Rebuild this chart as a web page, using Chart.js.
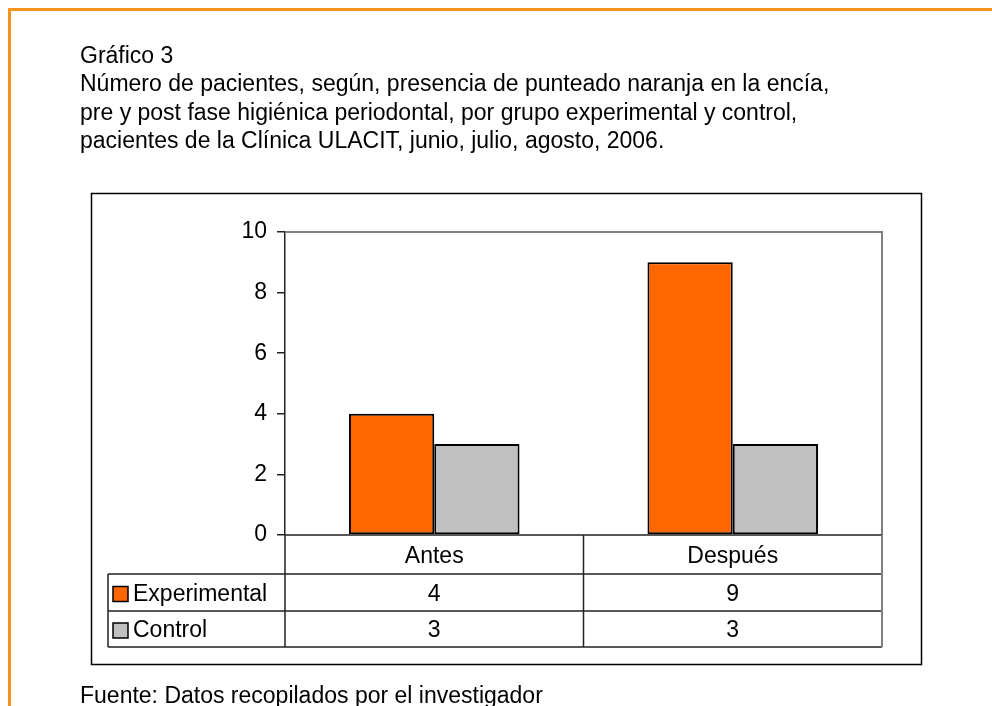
<!DOCTYPE html>
<html>
<head>
<meta charset="utf-8">
<script src="https://cdn.jsdelivr.net/npm/chart.js@4/dist/chart.umd.min.js"></script>
<style>
  html, body { margin: 0; padding: 0; background: #fff; }
  #wrap { width: 992px; height: 706px; position: relative; }
</style>
</head>
<body>
<div id="wrap"><canvas id="c" width="992" height="706"></canvas></div>
<script>
// Categories, series and axis ticks
const categories = ['Antes', 'Después'];
const seriesNames = ['Experimental', 'Control'];
const experimental = [4, 9];
const control = [3, 3];
const yTicks = [0, 2, 4, 6, 8, 10];

const titleLines = [
  'Gráfico 3',
  'Número de pacientes, según, presencia de punteado naranja en la encía,',
  'pre y post fase higiénica periodontal, por grupo experimental y control,',
  'pacientes de la Clínica ULACIT, junio, julio, agosto, 2006.'
];
const sourceNote = 'Fuente: Datos recopilados por el investigador';

const FONT = "'Liberation Sans', Arial, sans-serif";
const colors = ['#FF6600', '#C0C0C0'];

// Page frame, titles, chart box and the data table under the plot
const decor = {
  id: 'decor',
  beforeDraw(chart) {
    const ctx = chart.ctx;
    ctx.save();
    ctx.fillStyle = '#fff';
    ctx.fillRect(0, 0, chart.width, chart.height);
    // orange page frame
    ctx.fillStyle = '#F7941D';
    ctx.fillRect(8, 8, chart.width - 8, 3);
    ctx.fillRect(8, 8, 3, chart.height - 8);
    // titles
    ctx.fillStyle = '#000';
    ctx.font = '23px ' + FONT;
    ctx.textBaseline = 'alphabetic';
    ctx.textAlign = 'left';
    const base = [63, 91, 119.5, 148];
    titleLines.forEach((t, i) => ctx.fillText(t, 80, base[i]));
    ctx.fillText(sourceNote, 80, 703);
    // chart box
    ctx.strokeStyle = '#000';
    ctx.lineWidth = 1.5;
    ctx.strokeRect(91.5, 193.5, 830, 471);
    ctx.restore();
  },
  afterDraw(chart) {
    const ctx = chart.ctx;
    const a = chart.chartArea;
    const xs = chart.scales.x;
    ctx.save();
    // gray plot border top/right
    ctx.strokeStyle = '#808080';
    ctx.lineWidth = 2;
    ctx.beginPath();
    ctx.moveTo(a.left, a.top);
    ctx.lineTo(a.right, a.top);
    ctx.lineTo(a.right, a.bottom);
    ctx.stroke();

    // data table
    const rowH = [a.bottom, 574, 611, 647];
    const legLeft = 108;
    const mid = (xs.getPixelForValue(0) + xs.getPixelForValue(1)) / 2;
    ctx.strokeStyle = '#222';
    ctx.lineWidth = 1.5;
    ctx.beginPath();
    ctx.moveTo(a.left, a.bottom); ctx.lineTo(a.right, a.bottom);
    for (let r = 1; r < rowH.length; r++) {
      ctx.moveTo(legLeft, rowH[r]); ctx.lineTo(a.right, rowH[r]);
    }
    ctx.moveTo(legLeft, rowH[1]); ctx.lineTo(legLeft, rowH[3]);
    ctx.moveTo(a.left, a.bottom); ctx.lineTo(a.left, rowH[3]);
    ctx.moveTo(mid, a.bottom); ctx.lineTo(mid, rowH[3]);
    ctx.stroke();
    ctx.strokeStyle = '#808080';
    ctx.lineWidth = 2;
    ctx.beginPath();
    ctx.moveTo(a.right, a.bottom); ctx.lineTo(a.right, rowH[3]);
    ctx.stroke();

    ctx.fillStyle = '#000';
    ctx.font = '23px ' + FONT;
    ctx.textBaseline = 'middle';
    ctx.textAlign = 'center';
    categories.forEach((c, i) => ctx.fillText(c, xs.getPixelForValue(i), (rowH[0] + rowH[1]) / 2 + 2));
    const series = [experimental, control];
    series.forEach((vals, r) => {
      const y = (rowH[r + 1] + rowH[r + 2]) / 2 + 2;
      vals.forEach((v, i) => ctx.fillText(String(v), xs.getPixelForValue(i), y));
      // legend key + name
      ctx.fillStyle = colors[r];
      ctx.fillRect(113, y - 8, 15, 15);
      ctx.strokeStyle = '#000';
      ctx.lineWidth = 1.5;
      ctx.strokeRect(113, y - 8, 15, 15);
      ctx.fillStyle = '#000';
      ctx.textAlign = 'left';
      ctx.fillText(seriesNames[r], 133, y);
      ctx.textAlign = 'center';
    });
    ctx.restore();
  }
};

new Chart(document.getElementById('c'), {
  type: 'bar',
  data: {
    labels: categories,
    datasets: [
      { label: seriesNames[0], data: experimental, backgroundColor: colors[0], borderColor: '#000', borderWidth: 2, borderSkipped: false },
      { label: seriesNames[1], data: control, backgroundColor: colors[1], borderColor: '#000', borderWidth: 2, borderSkipped: false }
    ]
  },
  options: {
    responsive: false,
    animation: false,
    categoryPercentage: 0.5714,
    barPercentage: 1,
    layout: { padding: { left: 185, right: 110, top: 232, bottom: 171 } },
    plugins: { legend: { display: false }, tooltip: { enabled: false } },
    scales: {
      x: { display: false },
      y: {
        min: 0, max: 10,
        afterFit(s) { s.width = 100; },
        afterBuildTicks(s) { s.ticks = yTicks.map(v => ({ value: v })); },
        ticks: { color: '#000', font: { family: FONT, size: 23 }, padding: 10 },
        grid: { drawOnChartArea: false, drawTicks: true, tickLength: 8, color: '#222', lineWidth: 1.5 },
        border: { display: true, color: '#222', width: 1.5 }
      }
    }
  },
  plugins: [decor]
});
</script>
</body>
</html>
